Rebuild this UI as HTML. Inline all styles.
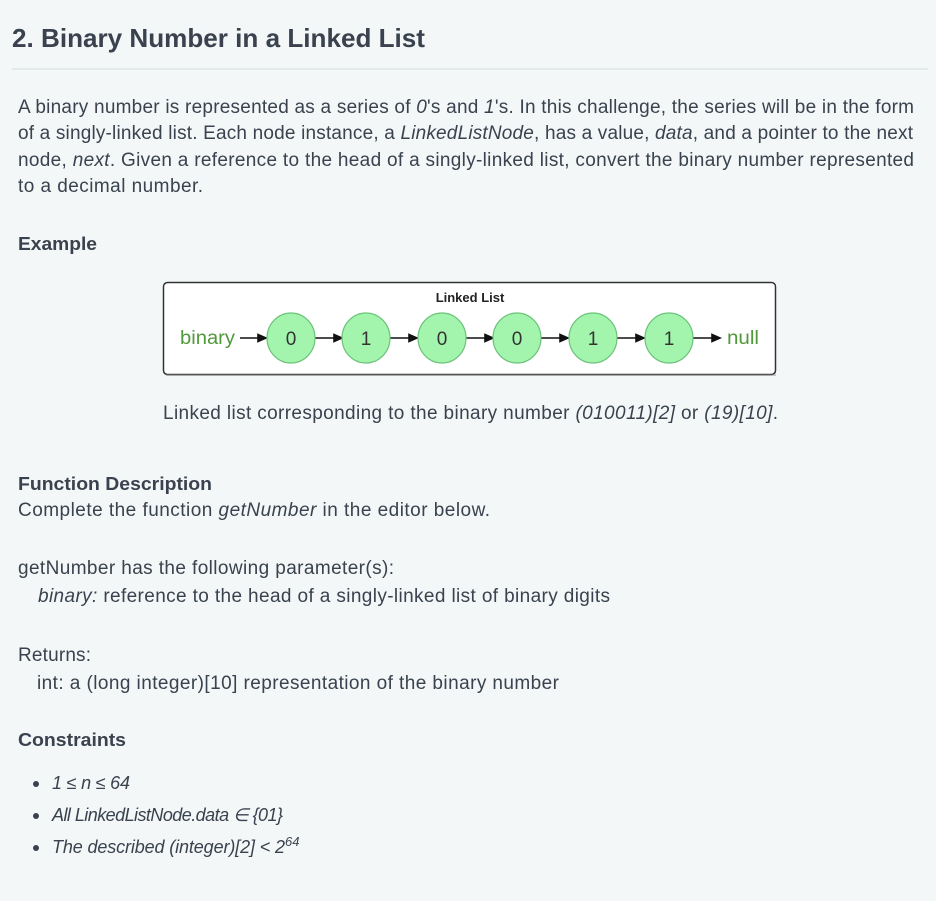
<!DOCTYPE html>
<html><head><meta charset="utf-8"><style>
html,body{margin:0;padding:0;background:#f3f7f7;}
svg{display:block}
text{font-family:"Liberation Sans",sans-serif;fill:#39424e;font-size:19px}
.b{font-weight:bold}
.i{font-style:italic}
.g{fill:#4f9a3a}
</style></head><body>
<svg width="936" height="901" viewBox="0 0 936 901" xmlns="http://www.w3.org/2000/svg">
<rect width="936" height="901" fill="#f3f7f7"/>
<text x="12" y="47" class="b" style="font-size:26px" textLength="413" lengthAdjust="spacingAndGlyphs">2. Binary Number in a Linked List</text>
<rect x="12" y="68" width="916" height="2" fill="#e3e8ea"/>
<text x="18" y="113" textLength="896" lengthAdjust="spacing">A binary number is represented as a series of <tspan class="i">0</tspan>'s and <tspan class="i">1</tspan>'s. In this challenge, the series will be in the form</text>
<text x="18" y="139" textLength="895" lengthAdjust="spacing">of a singly-linked list. Each node instance, a <tspan class="i">LinkedListNode</tspan>, has a value, <tspan class="i">data</tspan>, and a pointer to the next</text>
<text x="18" y="166" textLength="896" lengthAdjust="spacing">node, <tspan class="i">next</tspan>. Given a reference to the head of a singly-linked list, convert the binary number represented</text>
<text x="18" y="192" textLength="185" lengthAdjust="spacing">to a decimal number.</text>
<text x="18" y="250" class="b" style="font-size:18px" textLength="79" lengthAdjust="spacingAndGlyphs">Example</text>

<rect x="163.5" y="282.5" width="612" height="92" rx="4" fill="#fff" stroke="#333" stroke-width="1.5"/>
<rect x="166" y="374" width="610" height="2" fill="#888" opacity="0.4"/>
<text x="470" y="302" text-anchor="middle" class="b" style="font-size:13px;fill:#222">Linked List</text>
<text x="180" y="344" class="g" style="font-size:19px" textLength="55" lengthAdjust="spacingAndGlyphs">binary</text>
<text x="727" y="344" class="g" style="font-size:19px" textLength="32" lengthAdjust="spacingAndGlyphs">null</text>
<g stroke="#111" stroke-width="1.6" fill="#111">
<line x1="240" y1="338" x2="260" y2="338"/><polygon points="266,338 258,334.5 258,341.5"/>
<line x1="315" y1="338" x2="336" y2="338"/><polygon points="342,338 334,334.5 334,341.5"/>
<line x1="390" y1="338" x2="411" y2="338"/><polygon points="417,338 409,334.5 409,341.5"/>
<line x1="466" y1="338" x2="487" y2="338"/><polygon points="493,338 485,334.5 485,341.5"/>
<line x1="541" y1="338" x2="562" y2="338"/><polygon points="568,338 560,334.5 560,341.5"/>
<line x1="617" y1="338" x2="638" y2="338"/><polygon points="644,338 636,334.5 636,341.5"/>
<line x1="693" y1="338" x2="714" y2="338"/><polygon points="720,338 712,334.5 712,341.5"/>
</g>
<g fill="#a3f5ad" stroke="#6cc27a" stroke-width="1.2">
<ellipse cx="291" cy="338" rx="24" ry="25"/>
<ellipse cx="366" cy="338" rx="24" ry="25"/>
<ellipse cx="442" cy="338" rx="24" ry="25"/>
<ellipse cx="517" cy="338" rx="24" ry="25"/>
<ellipse cx="593" cy="338" rx="24" ry="25"/>
<ellipse cx="669" cy="338" rx="24" ry="25"/>
</g>
<text x="291" y="345" text-anchor="middle" style="font-size:19px;fill:#333">0</text>
<text x="366" y="345" text-anchor="middle" style="font-size:19px;fill:#333">1</text>
<text x="442" y="345" text-anchor="middle" style="font-size:19px;fill:#333">0</text>
<text x="517" y="345" text-anchor="middle" style="font-size:19px;fill:#333">0</text>
<text x="593" y="345" text-anchor="middle" style="font-size:19px;fill:#333">1</text>
<text x="669" y="345" text-anchor="middle" style="font-size:19px;fill:#333">1</text>
<text x="163" y="419" textLength="615" lengthAdjust="spacing">Linked list corresponding to the binary number <tspan class="i">(010011)[2]</tspan> or <tspan class="i">(19)[10]</tspan>.</text>

<text x="18" y="490" class="b" style="font-size:18px" textLength="194" lengthAdjust="spacingAndGlyphs">Function Description</text>
<text x="18" y="516" textLength="472" lengthAdjust="spacing">Complete the function <tspan class="i">getNumber</tspan> in the editor below.</text>
<text x="18" y="574" textLength="376" lengthAdjust="spacing">getNumber has the following parameter(s):</text>
<text x="38" y="602" textLength="572" lengthAdjust="spacing"><tspan class="i">binary:</tspan>  reference to the head of a singly-linked list of binary digits</text>
<text x="18" y="661" textLength="73" lengthAdjust="spacing">Returns:</text>
<text x="37" y="689" textLength="522" lengthAdjust="spacing">int: a (long integer)[10] representation of the binary number</text>
<text x="18" y="746" class="b" style="font-size:18px" textLength="108" lengthAdjust="spacingAndGlyphs">Constraints</text>
<circle cx="36" cy="784" r="3" fill="#39424e"/>
<circle cx="36" cy="816" r="3" fill="#39424e"/>
<circle cx="36" cy="848" r="3" fill="#39424e"/>
<text x="52" y="789" class="i" style="font-size:18px" textLength="78" lengthAdjust="spacing">1 ≤ n ≤ 64</text>
<text x="52" y="821" class="i" style="font-size:18px" textLength="231" lengthAdjust="spacing">All LinkedListNode.data ∈ {01}</text>
<text x="52" y="853" class="i" style="font-size:18px" textLength="233" lengthAdjust="spacing">The described (integer)[2] &lt; 2</text>
<text x="285" y="846" class="i" style="font-size:13px">64</text>
</svg>
</body></html>
